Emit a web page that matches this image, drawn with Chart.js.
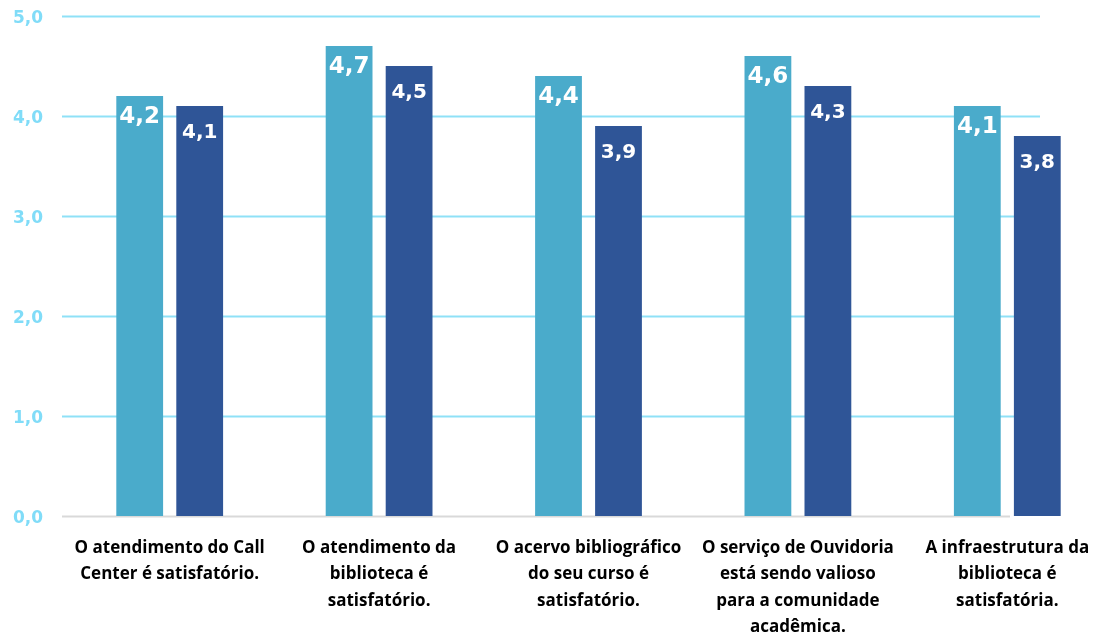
<!DOCTYPE html>
<html>
<head>
<meta charset="utf-8">
<script src="https://cdn.jsdelivr.net/npm/chart.js@4/dist/chart.umd.min.js"></script>
<style>
  html, body { margin: 0; padding: 0; background: #fff; overflow: hidden; }
  #wrap { position: absolute; left: 0; top: 0; width: 1120px; height: 635px; }
</style>
</head>
<body>
<div id="wrap"><canvas id="chart"></canvas></div>
<script>
// categories (already split in lines like in the picture)
const categories = [
  ['O atendimento do Call', 'Center é satisfatório.'],
  ['O atendimento da', 'biblioteca é', 'satisfatório.'],
  ['O acervo bibliográfico', 'do seu curso é', 'satisfatório.'],
  ['O serviço de Ouvidoria', 'está sendo valioso', 'para a comunidade', 'acadêmica.'],
  ['A infraestrutura da', 'biblioteca é', 'satisfatória.']
];
const serieA = [4.2, 4.7, 4.4, 4.6, 4.1];
const serieB = [4.1, 4.5, 3.9, 4.3, 3.8];
const yTicks = [0, 1, 2, 3, 4, 5];

const fmt = v => v.toFixed(1).replace('.', ',');

// grid lines + base line, drawn with the y scale
const gridPlugin = {
  id: 'grid',
  beforeDatasetsDraw(chart) {
    const ctx = chart.ctx;
    const y = chart.scales.y;
    ctx.save();
    ctx.lineWidth = 2;
    yTicks.forEach(t => {
      const py = Math.round(y.getPixelForValue(t)) + 0.5;
      ctx.beginPath();
      if (t === 0) {
        ctx.strokeStyle = '#d9d9d9';
        ctx.moveTo(62, py);
        ctx.lineTo(1010, py);
      } else {
        ctx.strokeStyle = '#8fe1f7';
        ctx.moveTo(62, py);
        ctx.lineTo(1040, py);
      }
      ctx.stroke();
    });
    ctx.restore();
  }
};

// value labels inside the bars
const labelPlugin = {
  id: 'valueLabels',
  afterDatasetsDraw(chart) {
    const ctx = chart.ctx;
    ctx.save();
    ctx.fillStyle = '#ffffff';
    ctx.textAlign = 'center';
    ctx.textBaseline = 'middle';
    chart.data.datasets.forEach((ds, i) => {
      const meta = chart.getDatasetMeta(i);
      meta.data.forEach((bar, j) => {
        if (i === 0) {
          ctx.font = 'bold 23px "DejaVu Sans", sans-serif';
          ctx.fillText(fmt(ds.data[j]), bar.x, bar.y + 21);
        } else {
          ctx.font = 'bold 20px "DejaVu Sans", sans-serif';
          ctx.fillText(fmt(ds.data[j]), bar.x, bar.y + 27);
        }
      });
    });
    ctx.restore();
  }
};

new Chart(document.getElementById('chart'), {
  type: 'bar',
  data: {
    labels: categories,
    datasets: [
      {
        label: 'Série 1',
        data: serieA,
        backgroundColor: '#4aabcb',
        categoryPercentage: 0.573,
        barPercentage: 0.78
      },
      {
        label: 'Série 2',
        data: serieB,
        backgroundColor: '#2f5597',
        categoryPercentage: 0.573,
        barPercentage: 0.78
      }
    ]
  },
  options: {
    responsive: true,
    maintainAspectRatio: false,
    animation: false,
    layout: { padding: { top: 16, right: 8, left: 0, bottom: 0 } },
    plugins: {
      legend: { display: false },
      tooltip: { enabled: false }
    },
    scales: {
      x: {
        grid: { display: false, drawTicks: false },
        border: { display: false },
        ticks: {
          color: '#000000',
          padding: 19,
          maxRotation: 0,
          autoSkip: false,
          font: { family: '"Open Sans"', weight: 'bold', size: 17, lineHeight: 1.55 }
        },
        afterFit(scale) {
          scale.height = 119;
          scale.paddingLeft = 0;
          scale.paddingRight = 0;
        }
      },
      y: {
        min: 0,
        max: 5,
        grid: { display: false, drawTicks: false },
        border: { display: false },
        afterBuildTicks(scale) { scale.ticks = yTicks.map(v => ({ value: v })); },
        ticks: {
          color: '#80dcf8',
          padding: 22,
          labelOffset: 3,
          font: { family: '"DejaVu Sans", sans-serif', weight: 'bold', size: 17 },
          callback: v => fmt(v)
        },
        afterFit(scale) {
          scale.width = 65;
          scale.paddingTop = 0;
          scale.paddingBottom = 0;
        }
      }
    }
  },
  plugins: [gridPlugin, labelPlugin]
});
</script>
</body>
</html>
